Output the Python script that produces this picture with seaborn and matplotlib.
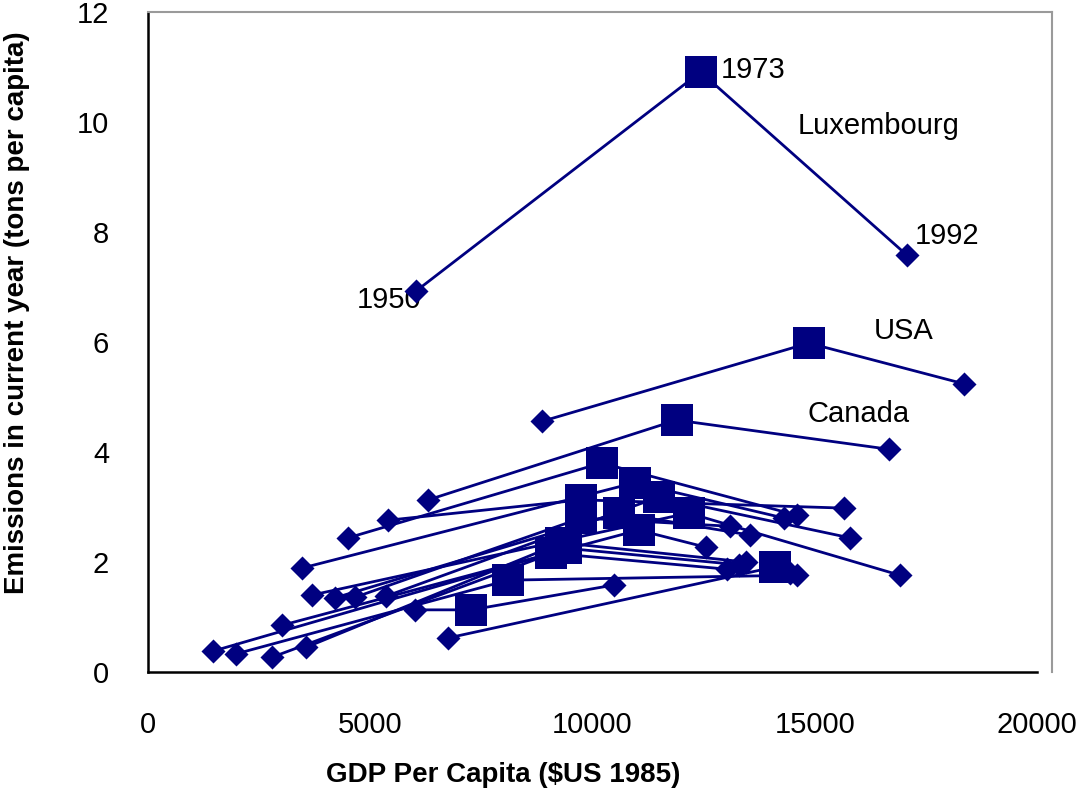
import pandas as pd
import numpy as np
import matplotlib
matplotlib.use("Agg")
import matplotlib.pyplot as plt
import seaborn as sns

# ------------------------------------------
# data
# ------------------------------------------
countries = ["Luxembourg", "USA", "Canada", "C04", "C05", "C06", "C07", "C08",
             "C09", "C10", "C11", "C12", "C13", "C14", "C15", "C16", "C17"]

gdp_1950 = [6036, 8874, 6306, 5405, 4505, 3468, 5360, 4662, 4212, 3694,
            3018, 3559, 1464, 1982, 6014, 2793, 6757]
em_1950 = [6.93, 4.56, 3.13, 2.76, 2.44, 1.89, 1.38, 1.36, 1.35, 1.40,
           0.85, 0.45, 0.38, 0.33, 1.13, 0.27, 0.62]

gdp_1973 = [12432, 14865, 11892, 9752, 10203, 10946, 11486, 9752, 10586, 12162,
            11036, 9302, 9077, 8108, 7275, 9400, 14099]
em_1973 = [10.91, 5.98, 4.58, 3.13, 3.80, 3.44, 3.18, 2.80, 2.89, 2.89,
           2.58, 2.35, 2.16, 1.67, 1.13, 2.25, 1.91]

gdp_1992 = [17072, 18356, 16667, 15653, 14595, 14302, 15788, 13086, 13536, 16914,
            12545, 13446, 13018, 14595, 10473, 13300, 14450]
em_1992 = [7.58, 5.24, 4.05, 2.98, 2.85, 2.80, 2.44, 2.65, 2.49, 1.76,
           2.27, 2.00, 1.87, 1.76, 1.58, 1.95, 1.80]

years = [1950, 1973, 1992]

# annotation texts and where they sit (data coords)
notes = ["1973", "Luxembourg", "1992", "1950", "USA", "Canada"]
note_x = [12883, 14617, 17252, 4707, 16329, 14842]
note_y = [10.95, 9.93, 7.93, 6.76, 6.20, 4.69]

# long table for seaborn
df = pd.DataFrame({
    "country": countries * 3,
    "year": np.repeat(years, len(countries)),
    "gdp": gdp_1950 + gdp_1973 + gdp_1992,
    "emissions": em_1950 + em_1973 + em_1992,
})

navy = "#000080"

# ------------------------------------------
# plot
# ------------------------------------------
sns.set_theme(style="white")
plt.rcParams["font.family"] = ["Liberation Sans", "DejaVu Sans"]

fig = plt.figure(figsize=(10.79, 7.92), dpi=100)
ax = fig.add_axes([148 / 1079, 120 / 792, 904 / 1079, 660 / 792])

sns.lineplot(data=df, x="gdp", y="emissions", units="country", estimator=None,
             sort=False, color=navy, linewidth=2.0, ax=ax, zorder=2)

ends = df[df["year"] != 1973]
mids = df[df["year"] == 1973]
sns.scatterplot(data=ends, x="gdp", y="emissions", marker="D", s=150,
                color=navy, linewidth=0, ax=ax, zorder=3)
sns.scatterplot(data=mids, x="gdp", y="emissions", marker="s", s=540,
                color=navy, linewidth=0, ax=ax, zorder=4)

for txt, x, y in zip(notes, note_x, note_y):
    ax.text(x, y, txt, fontsize=21, ha="left", va="center", color="black", zorder=1)

ax.set_xlim(0, 20000 * 904 / 889)
ax.set_ylim(0, 12)
ax.set_xticks([0, 5000, 10000, 15000, 20000])
ax.set_yticks([0, 2, 4, 6, 8, 10, 12])

for side in ["left", "bottom"]:
    ax.spines[side].set_color("black")
    ax.spines[side].set_linewidth(1.8)
for side in ["top", "right"]:
    ax.spines[side].set_color("#9a9a9a")
    ax.spines[side].set_linewidth(1.5)
ax.spines["bottom"].set_bounds(0, 20000)

ax.tick_params(axis="both", direction="inout", length=12, width=1.8,
               color="black", labelsize=21, pad=22, labelcolor="black")

ax.set_xlabel("GDP Per Capita ($US 1985)", fontsize=20, fontweight="bold", color="black")
ax.set_ylabel("Emissions in current year (tons per capita)", fontsize=20,
              fontweight="bold", color="black")
ax.xaxis.set_label_coords((503 - 148) / 904, (672 - 762) / 660)
ax.yaxis.set_label_coords((30 - 148) / 904, (672 - 313) / 660)

fig.savefig("out.png", dpi=100)
